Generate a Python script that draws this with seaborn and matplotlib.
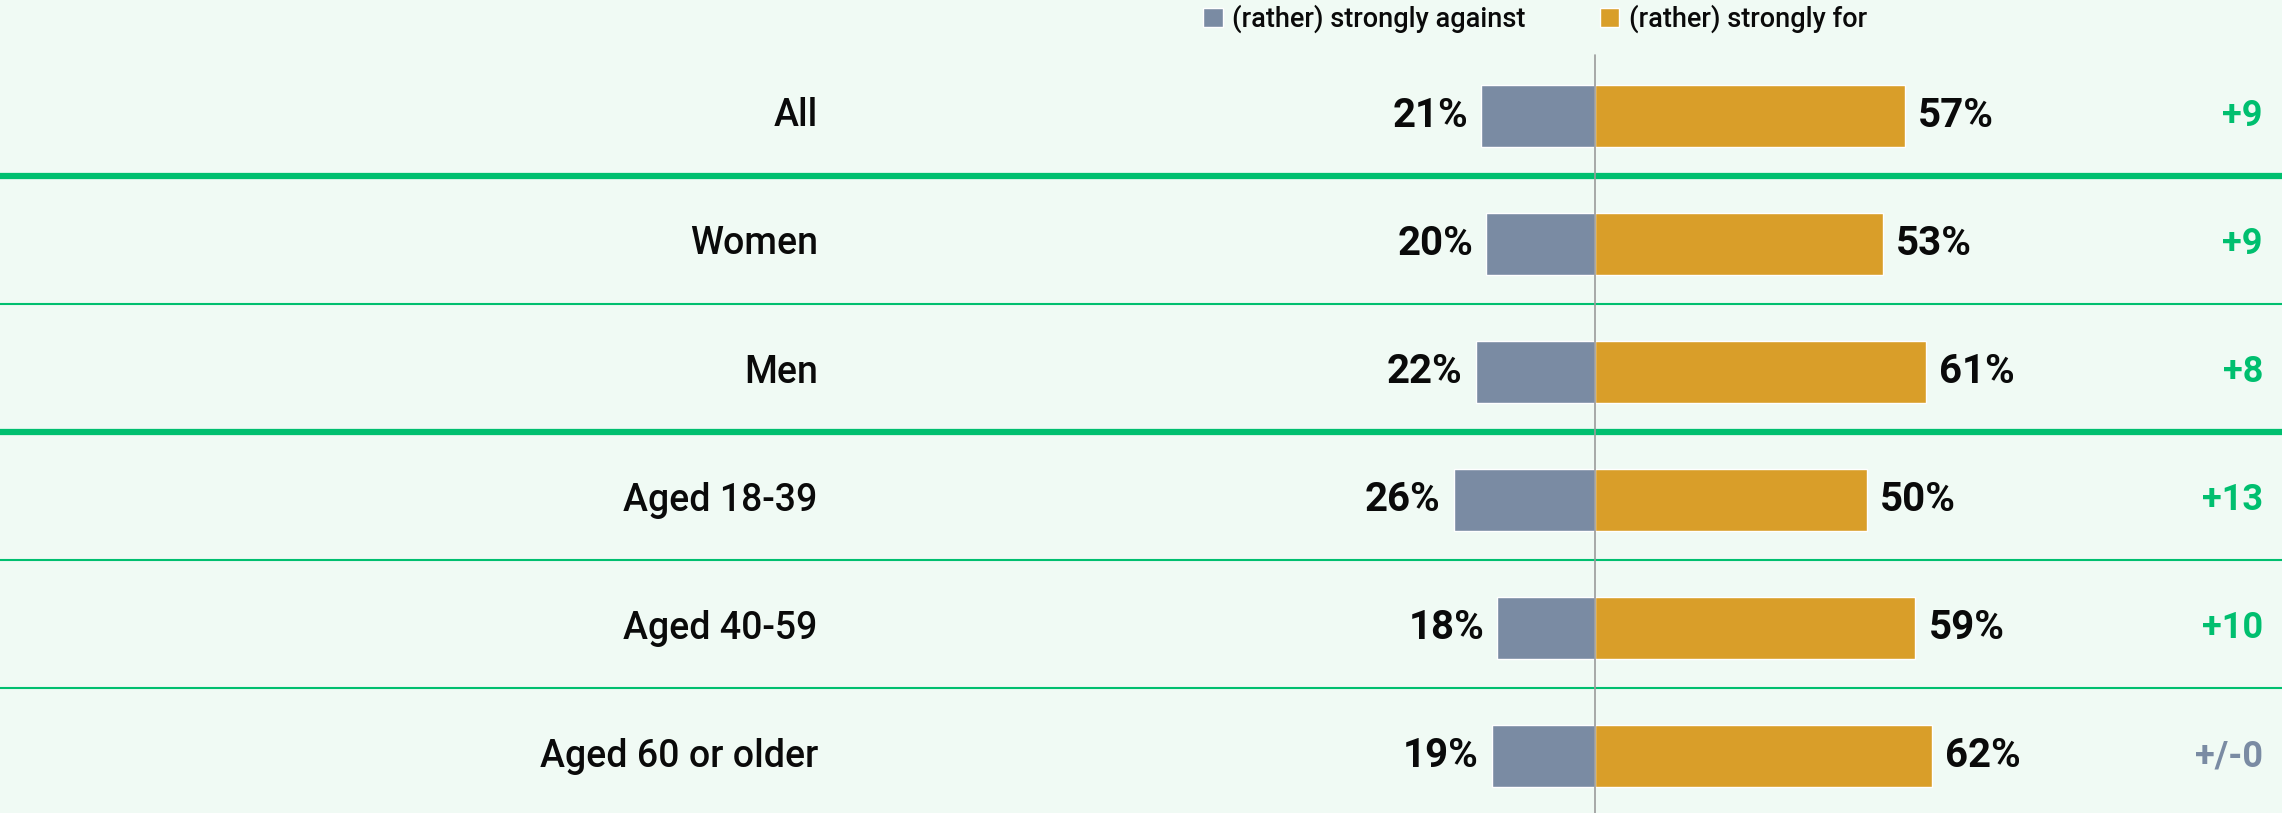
import matplotlib
matplotlib.use("Agg")
import matplotlib.pyplot as plt
import seaborn as sns
import pandas as pd

categories = ["All", "Women", "Men", "Aged 18-39", "Aged 40-59", "Aged 60 or older"]
against = [21, 20, 22, 26, 18, 19]
favour = [57, 53, 61, 50, 59, 62]
deltas = ["+9", "+9", "+8", "+13", "+10", "+/-0"]
series_names = ["(rather) strongly against", "(rather) strongly for"]

BG = "#F0FAF4"
GREEN = "#00BF6F"
C_AG = "#7A8BA3"
C_FOR = "#D99E29"

sns.set_theme(style="white")
plt.rcParams["font.family"] = ["Roboto", "DejaVu Sans"]

df = pd.DataFrame({
    "category": categories * 2,
    "value": [-v for v in against] + favour,
    "series": [series_names[0]] * len(categories) + [series_names[1]] * len(categories),
})

fig = plt.figure(figsize=(22.82, 8.13), dpi=100, facecolor=BG)
ax = fig.add_axes([0, 0, 1, 1])
ax.set_facecolor(BG)

sns.barplot(data=df, x="value", y="category", hue="series", order=categories,
            hue_order=series_names, palette=[C_AG, C_FOR], dodge=False,
            width=0.49, orient="h", ax=ax, legend=True, saturation=1)

ax.set_xlim(-293.7, 126.5)
ax.set_ylim(5.445, -0.906)
ax.set_xlabel("")
ax.set_ylabel("")
ax.set_xticks([])
ax.set_yticks([])
for s in ax.spines.values():
    s.set_visible(False)

# separators
for i in range(len(categories) - 1):
    thick = i in (0, 2)
    ax.axhline(i + 0.47, color=GREEN, lw=4.5 if thick else 1.5, zorder=1)

# center line
ax.plot([0, 0], [-0.48, 5.445], color="#9A9A9A", lw=1.2, zorder=3)

for i, cat in enumerate(categories):
    ax.text(-143.1, i, cat, ha="right", va="center", fontsize=27,
            fontweight="medium", color="#0A0A0A")
    ax.text(-against[i] - 2.4, i, f"{against[i]}%", ha="right", va="center",
            fontsize=29, fontweight="bold", color="#0A0A0A")
    ax.text(favour[i] + 2.4, i, f"{favour[i]}%", ha="left", va="center",
            fontsize=29, fontweight="bold", color="#0A0A0A")
    col = C_AG if deltas[i] == "+/-0" else GREEN
    ax.text(123.0, i, deltas[i], ha="right", va="center", fontsize=26,
            fontweight="bold", color=col)

handles, labels = ax.get_legend_handles_labels()
leg = ax.legend(handles, labels, ncol=2, frameon=False, loc="center left",
                bbox_to_anchor=(1203 / 2282, 1 - 19 / 813), fontsize=19.5,
                handlelength=0.72, handleheight=0.72, handletextpad=0.35,
                columnspacing=2.75, borderpad=0, borderaxespad=0)
for t in leg.get_texts():
    t.set_fontweight("medium")
    t.set_color("#0A0A0A")

fig.savefig("out.png", dpi=100, facecolor=BG)
